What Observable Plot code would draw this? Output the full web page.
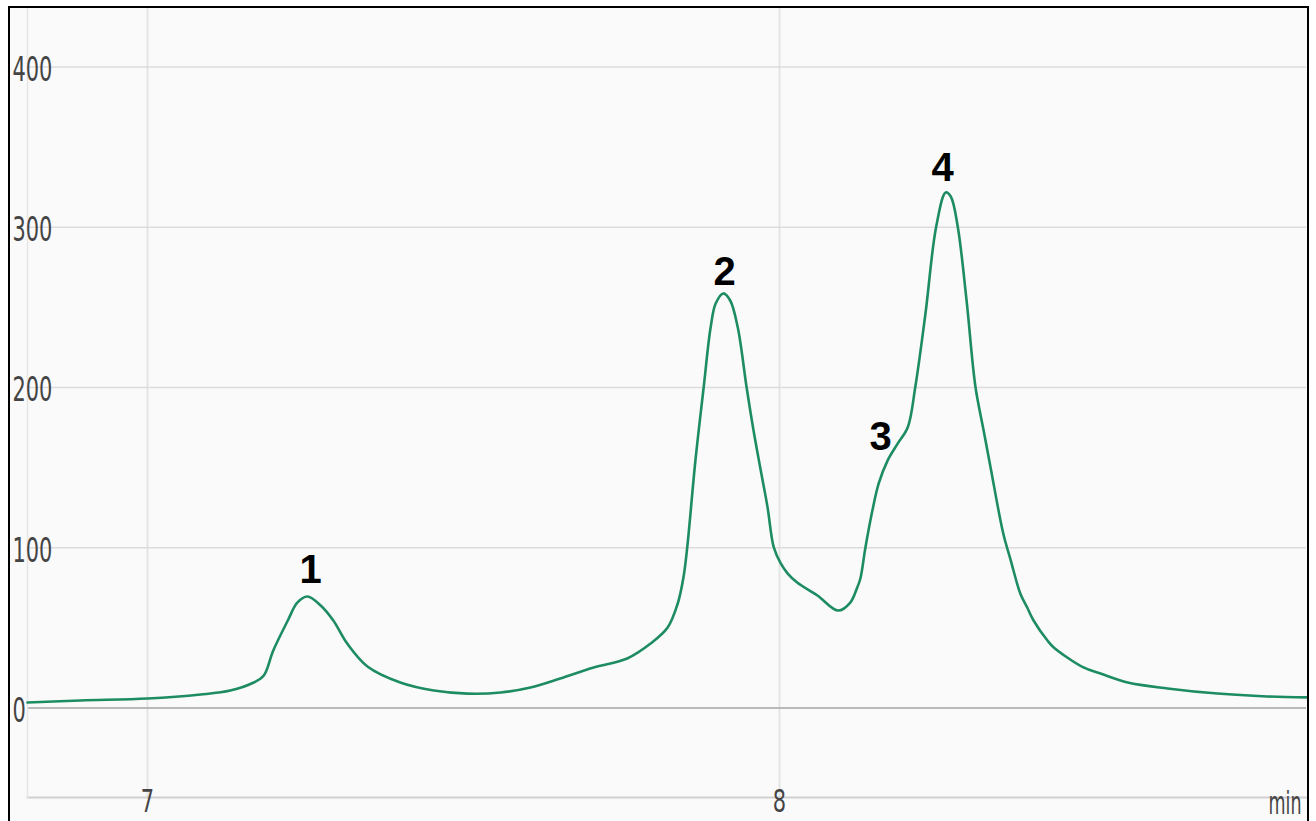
<!DOCTYPE html>
<html>
<head>
<meta charset="utf-8">
<script src="https://cdn.jsdelivr.net/npm/d3@7"></script>
<script src="https://cdn.jsdelivr.net/npm/@observablehq/plot@0.6"></script>
<style>
  html, body { margin: 0; padding: 0; background: #ffffff; }
  #wrap { position: relative; width: 1316px; height: 821px; overflow: hidden; }
  #bg { position: absolute; left: 8px; top: 6px; width: 1300px; height: 820px; background: #fafafa; }
  #chart { position: absolute; left: 0; top: 0; }
  #border { position: absolute; left: 8px; top: 6px; width: 1297px; height: 820px; border: 2px solid #000; pointer-events: none; }
</style>
</head>
<body>
<div id="wrap">
  <div id="bg"></div>
  <div id="chart"></div>
  <div id="border"></div>
</div>
<script>
// Retention time (min)
const time = [6.810, 6.894, 7.000, 7.084, 7.131, 7.168, 7.184, 7.199, 7.222, 7.237, 7.253, 7.274, 7.294, 7.316, 7.348,
  7.400, 7.453, 7.506, 7.559, 7.606, 7.653, 7.706, 7.759, 7.796, 7.823, 7.839, 7.848, 7.854, 7.867, 7.880,
  7.891, 7.899, 7.911, 7.922, 7.934, 7.948, 7.959, 7.970, 7.981, 7.991, 8.002, 8.013, 8.028, 8.060, 8.093,
  8.112, 8.123, 8.128, 8.136, 8.147, 8.157, 8.171, 8.187, 8.203, 8.215, 8.231, 8.248, 8.263, 8.271,
  8.282, 8.296, 8.310, 8.323, 8.334, 8.354, 8.366, 8.381, 8.392, 8.402, 8.424, 8.434, 8.481,
  8.508, 8.551, 8.614, 8.693, 8.772, 8.834];
// Signal
const signal = [3.4, 4.7, 5.9, 8.4, 10.9, 15.9, 20.3, 35.9, 54.6, 65.8, 69.6, 64.0, 54.6, 40.2, 25.9,
  15.9, 10.9, 9.0, 9.7, 12.8, 18.4, 25.3, 30.9, 40.2, 50.2, 65.2, 81.4, 100.2, 154.6, 200.0,
  237.4, 252.4, 258.7, 254.3, 237.4, 200.0, 173.0, 149.0, 125.5, 100.2, 90.2, 83.9, 78.3, 70.2, 60.8,
  65.8, 75.2, 80.8, 100.2, 123.2, 140.1, 154.4, 165.0, 175.2, 200.6, 246.2, 300.5, 321.7, 319.2,
  300.5, 254.3, 200.6, 173.2, 150.1, 109.0, 92.0, 71.5, 62.7, 54.6, 42.1, 37.8, 25.3,
  21.5, 15.9, 12.2, 9.0, 7.2, 6.6];

// Peak labels
const peakNames = ["1", "2", "3", "4"];
const peakTime = [7.258, 7.913, 8.160, 8.258];
const peakLabelY = [85.8, 271.8, 168.8, 336.7];

const yTicks = [0, 100, 200, 300, 400];
const xTicks = [7, 8];
const xUnit = "min";

const series = time.map((t, i) => ({t, v: signal[i]}));
const peaks = peakNames.map((n, i) => ({n, t: peakTime[i], v: peakLabelY[i]}));

const tickFont = "'DejaVu Sans Condensed', 'Liberation Sans Narrow', sans-serif";

const chart = Plot.plot({
  width: 1316,
  height: 821,
  marginLeft: 27,
  marginRight: 10,
  marginTop: 8,
  marginBottom: 24,
  style: {background: "transparent", overflow: "visible"},
  x: {domain: [6.8101, 8.8339], axis: null},
  y: {domain: [-55.85, 436.5], axis: null},
  marks: [
    Plot.ruleX(xTicks, {stroke: "#e4e4e4", strokeWidth: 2}),
    Plot.ruleY(yTicks.filter(d => d !== 0), {stroke: "#dcdcdc", strokeWidth: 1.5}),
    Plot.ruleY([0], {stroke: "#b9b9b9", strokeWidth: 2}),
    Plot.frame({anchor: "bottom", stroke: "#d0d0d0", strokeWidth: 2}),
    Plot.frame({anchor: "left", stroke: "#e6e6e6", strokeWidth: 1.5}),
    Plot.line(series, {x: "t", y: "v", stroke: "#1d8c62", strokeWidth: 2.6, curve: "catmull-rom"}),
    Plot.text(peaks, {x: "t", y: "v", text: "n", fontSize: 40, fontWeight: "bold",
      fontFamily: "'Liberation Sans', Arial, sans-serif", fill: "#000"}),
    Plot.text(yTicks, {y: d => d, text: d => String(d), frameAnchor: "left", textAnchor: "start",
      dx: -15, dy: 3, fontSize: 34, fontFamily: tickFont, fill: "#444"}),
    Plot.text(xTicks, {x: d => d, text: d => String(d), frameAnchor: "bottom", lineAnchor: "top",
      dy: -8, fontSize: 32, fontFamily: tickFont, fill: "#444"}),
    Plot.text([xUnit], {text: d => d, frameAnchor: "bottom-right", textAnchor: "end", lineAnchor: "top",
      dx: -5, dy: -6, fontSize: 32, fontFamily: tickFont, fill: "#444"})
  ]
});
document.getElementById("chart").appendChild(chart);

// Condense the axis labels horizontally, like the narrow font of the original
const textGroups = chart.querySelectorAll('g[aria-label="text"]');
[1, 2, 3].forEach(gi => {
  const g = textGroups[gi];
  if (!g) return;
  g.querySelectorAll("text").forEach(el => {
    const s = el.textContent;
    const w = s === "min" ? 33 : s.length * 13.3;
    el.setAttribute("textLength", w);
    el.setAttribute("lengthAdjust", "spacingAndGlyphs");
  });
});
</script>
</body>
</html>
